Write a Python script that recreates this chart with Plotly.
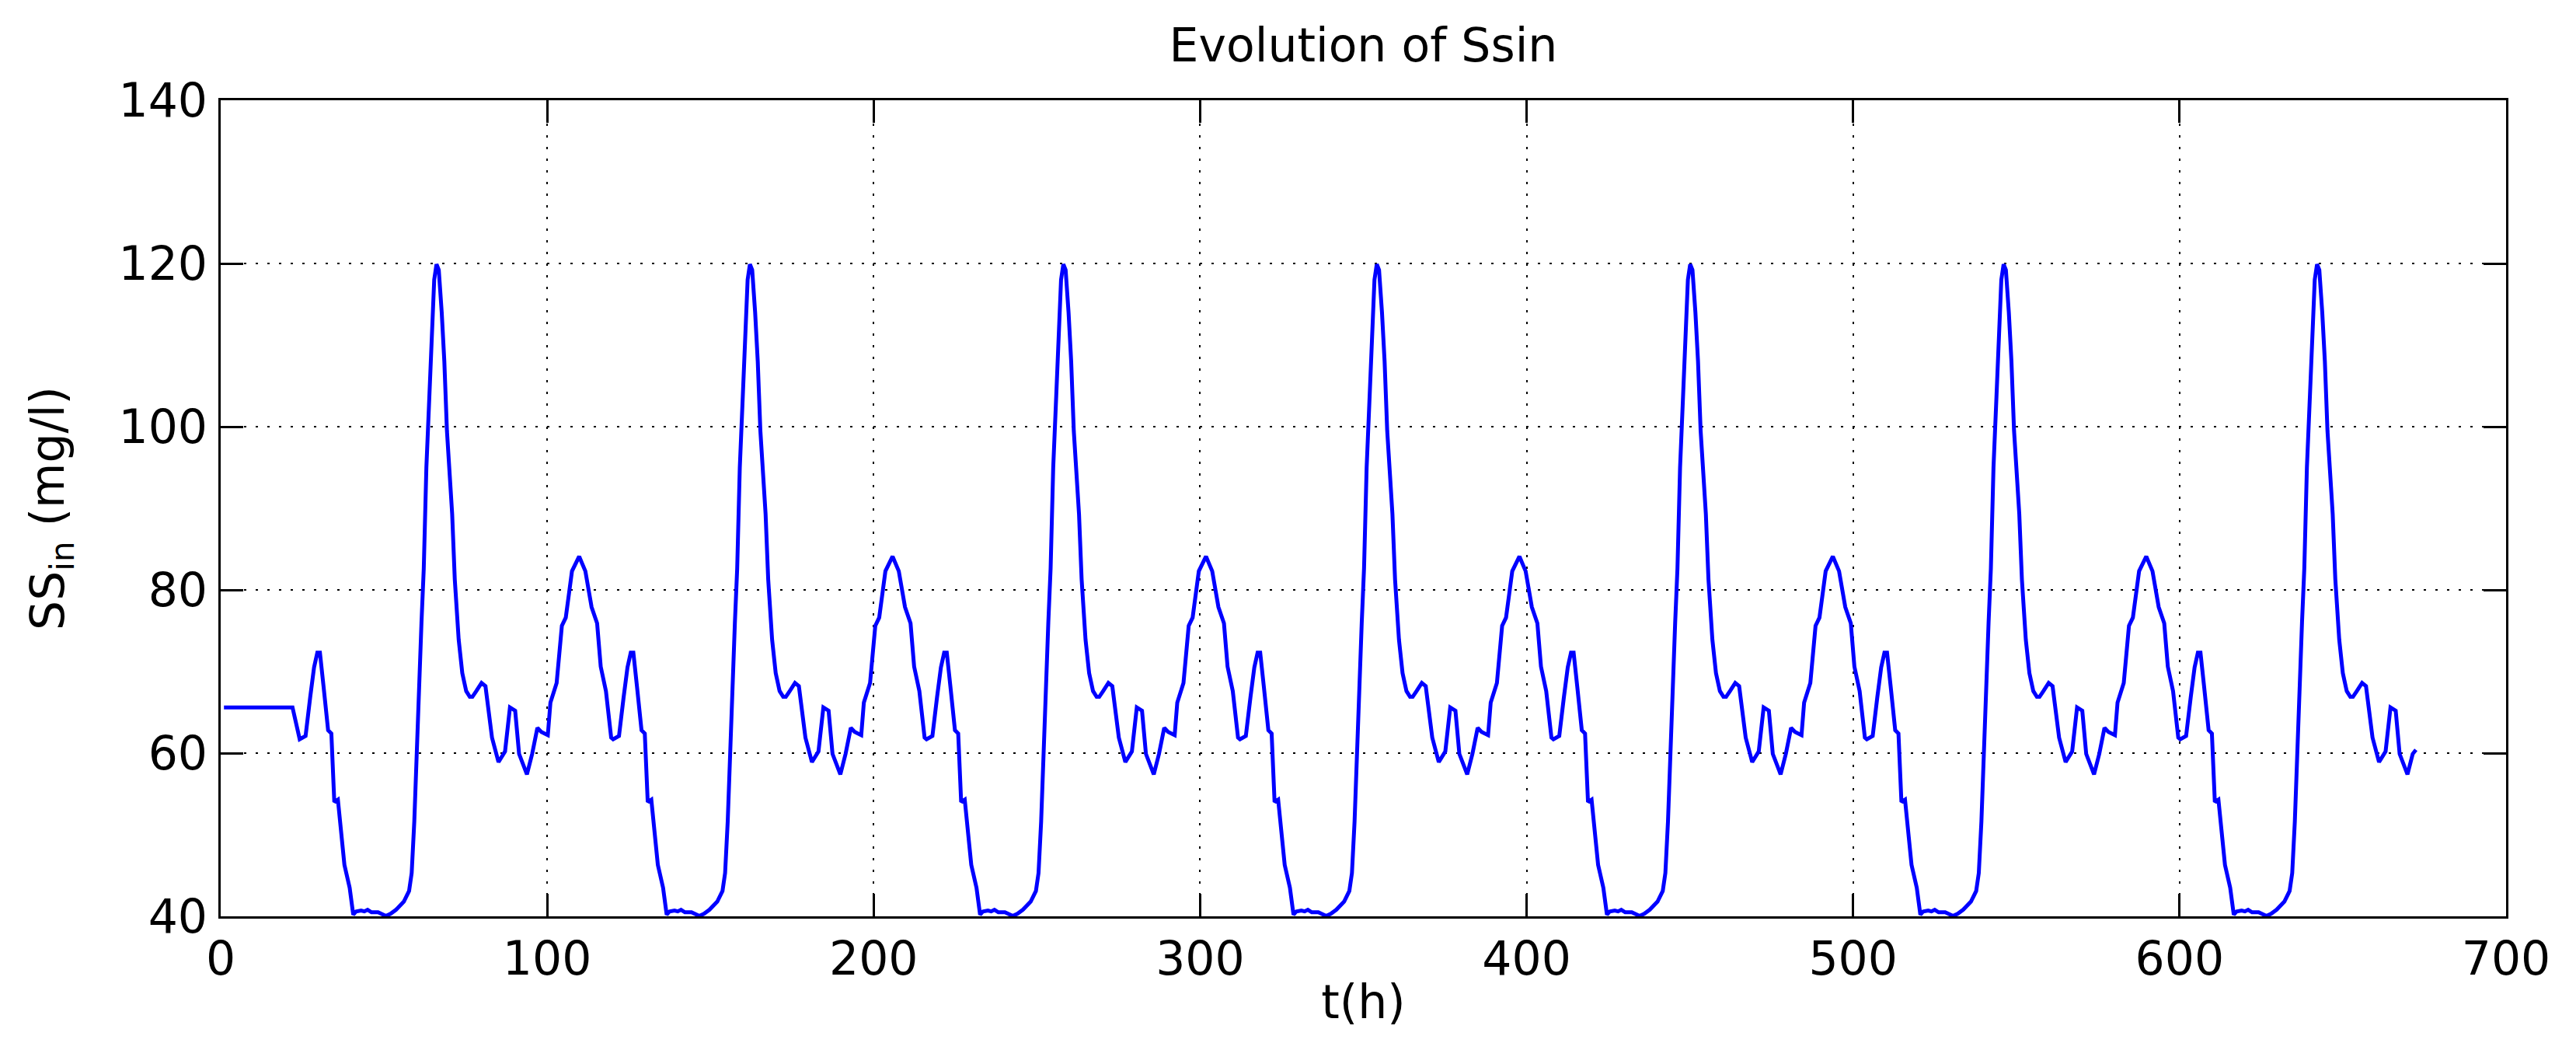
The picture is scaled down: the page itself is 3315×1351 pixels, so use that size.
import plotly.graph_objects as go

# ---- data ----
# initial constant segment (first day)
start_t = [1.0, 22.0]
start_v = [65.6, 65.6]

# one 96-hour influent cycle (t = 24 .. 120 h)
cycle_t = [24.2, 26.0, 27.4, 28.6, 29.6, 30.4, 31.5, 32.9, 33.9, 34.8, 35.9, 37.9,
           39.5, 40.6, 41.5, 43.0, 44.0, 45.0, 46.2, 48.2, 50.6, 52.0, 53.7, 56.1,
           57.7, 58.5, 59.3, 60.1, 60.9, 61.5, 62.2, 63.0, 63.8, 64.6, 65.4, 66.1,
           66.8, 67.7, 68.5, 69.3, 70.1, 70.9, 71.7, 72.9, 74.0, 75.2, 76.3, 77.1,
           78.3, 79.9, 81.1, 83.1, 85.1, 87.1, 88.6, 90.2, 91.4, 93.8, 95.4, 97.0,
           98.2, 100.2, 101.0, 102.9, 104.5, 105.7, 107.6, 109.8, 111.7, 113.6, 115.3,
           116.4, 118.0, 119.6]
cycle_v = [61.7, 62.1, 66.8, 70.5, 72.3, 72.3, 68.2, 62.8, 62.4, 54.0, 54.3, 46.3,
           43.5, 40.2, 40.6, 40.7, 40.6, 40.8, 40.5, 40.5, 40.05, 40.3, 40.8, 41.8,
           43.1, 45.3, 51.6, 61.8, 69.7, 76.0, 82.6, 95.0, 102.6, 112.0, 118.0, 119.9,
           119.2, 114.0, 108.0, 99.5, 94.0, 89.3, 81.3, 73.9, 69.8, 67.6, 66.9, 66.9,
           67.6, 68.6, 68.2, 61.9, 58.9, 60.2, 65.6, 65.2, 59.9, 57.4, 59.9, 63.1,
           62.6, 62.2, 66.2, 68.6, 75.6, 76.6, 82.3, 84.1, 82.3, 77.9, 75.9,
           70.6, 67.6, 61.9]
period_h = 96
n_cycles = 7

# last sample of the record
tail_t = [672.4]
tail_v = [60.4]

x_ticks = [0, 100, 200, 300, 400, 500, 600, 700]
y_ticks = [40, 60, 80, 100, 120, 140]

# ---- assemble series (the cycle repeats identically in the picture) ----
t_all = list(start_t)
v_all = list(start_v)
for k in range(n_cycles):
    for t, v in zip(cycle_t, cycle_v):
        tt = t + k * period_h
        if tt < tail_t[0]:
            t_all.append(tt)
            v_all.append(v)
t_all += tail_t
v_all += tail_v

FONT = "DejaVu Sans"
FS = 60

fig = go.Figure()
fig.add_trace(go.Scatter(x=t_all, y=v_all, mode="lines",
                         line=dict(color="#0000FF", width=5),
                         showlegend=False, hoverinfo="skip"))

axis_common = dict(
    showline=True, linewidth=3, linecolor="black", mirror="ticks",
    ticks="inside", ticklen=29, tickwidth=3, tickcolor="black",
    showgrid=True, gridcolor="black", gridwidth=2, griddash="3px,12px",
    zeroline=False,
    tickfont=dict(family=FONT, size=FS, color="black"),
)

fig.update_layout(
    width=3315, height=1351, autosize=False,
    margin=dict(l=284, r=90, t=129, b=172, pad=0),
    paper_bgcolor="white", plot_bgcolor="white",
    font=dict(family=FONT, size=FS, color="black"),
    title=dict(text="Evolution of Ssin", x=0.5, xref="paper",
               y=1 - 58 / 1351, yref="container", yanchor="middle",
               font=dict(family=FONT, size=FS, color="black")),
    xaxis=dict(range=[0, 700], tickvals=x_ticks, ticktext=[str(v) for v in x_ticks],
               ticklabelstandoff=0,
               title=dict(text="t(h)", standoff=1,
                          font=dict(family=FONT, size=FS, color="black")),
               **axis_common),
    yaxis=dict(range=[40, 140], tickvals=y_ticks, ticktext=[str(v) for v in y_ticks],
               ticklabelstandoff=2,
               title=dict(text="SS<sub>in</sub> (mg/l)", standoff=51,
                          font=dict(family=FONT, size=FS, color="black")),
               **axis_common),
)

fig.write_html("out.html",
               config={"displayModeBar": False, "staticPlot": True},
               post_script="document.body.style.margin='0';"
                           "document.body.style.padding='0';"
                           "document.body.style.overflow='hidden';")
